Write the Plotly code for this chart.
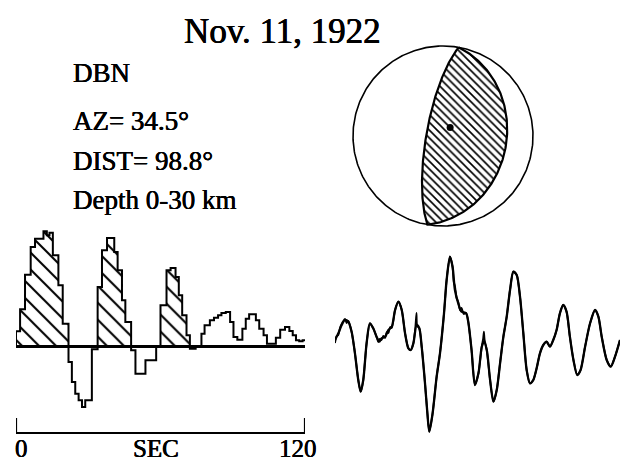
import numpy as np
import plotly.graph_objects as go

W, H = 620, 467

# ---------------- data ----------------
title_text = "Nov. 11, 1922"
station_info = ["DBN", "AZ= 34.5°", "DIST= 98.8°", "Depth 0-30 km"]
scale_labels = ["0", "SEC", "120"]
scale_ticks = [0, 120]

# source time function: step start times (s) and amplitudes (arbitrary units)
stf_t = [0, 1.7, 3.75, 6.1, 7.9, 11.4, 12.8, 13.9, 15.3, 17.6, 19.4,
         21.8, 23.2, 24.6, 26.0, 27.4, 28.75, 31.5,
         33.9, 35.7, 37.8, 40.8, 42.2, 44.0, 45.4,
         47.8, 49.6, 53.75, 58.2,
         60.0, 62.5, 64.2, 66.25, 67.6, 69.0, 70.8,
         72.2, 74.6, 77.0, 78.3, 80.5, 82.2, 83.9, 85.3, 87.1, 88.9, 90.3,
         91.9, 94.0, 95.4, 96.8, 99.6, 101.0, 102.8, 104.2, 107.9, 109.7,
         111.7, 113.5, 114.9, 116.25, 117.6, 119.0, 120.0]
stf_v = [14.7, 36.7, 71.3, 99, 107.3, 114.7, 110.7, 113.3, 90.7, 60.7, 22.3,
         -16, -36, -47.7, -54.3, -61, -54.3, -3.3,
         59, 95.7, 108, 94, 75.7, 45.7, 24,
         -4.3, -27.7, -14.3, 0,
         40.7, 75.7, 78, 69, 50.7, 30.7, 10.7,
         -2.7, 0, 12.3, 20.7, 25.7, 28.3, 30.7, 33, 34, 24, 9,
         6.3, 17.3, 27.3, 31.7, 25.7, 17.3, 10.7, 2.3, 8.3, 16.3,
         19, 15, 10.7, 5.7, 4.7, 5.7, 5.7]
n_hatched_pulses = 3

# focal mechanism: nodal planes (strike, dip) and T axis (trend, plunge)
nodal_planes = [(10, 30), (190, 75)]
t_axis = (40, 80)

# seismograms (time s, amplitude arbitrary units)
syn_t = [0, 1.4, 2.8, 4.2, 5.6, 7.0, 8.4, 9.8, 10.8, 11.9, 13.3, 14.7, 16.1, 17.5,
         18.7, 19.6, 21.1, 22.5, 23.9, 25.3, 26.7, 28.1, 29.5, 30.9, 31.9, 33.0,
         34.4, 35.5, 36.5, 37.9, 38.9, 39.7, 41.1, 42.8, 44.2, 45.9, 47.0, 48.4,
         49.5, 50.5, 51.9, 53.3, 55.2, 56.1, 57.5, 58.9, 60.4, 61.8, 62.7, 63.9,
         65.3, 66.7, 68.1, 69.5, 70.9, 72.3, 73.7, 75.1, 76.5, 77.9, 79.3, 80.7,
         82.1, 83.5, 84.9, 86.3, 87.7, 89.1, 90.5, 91.9, 93.3, 94.7, 96.1, 97.5,
         98.9, 100.4, 102.0, 103.4, 105.3, 107.4, 109.5, 110.9, 112.3, 114.4,
         116.1, 117.9, 120]
syn_a = [0, 6.7, 15, 20, 18.3, 8.3, -13.3, -40, -51.7, -40, -3.3, 16.7, 11.7, 3.3,
         -1.7, 1.7, 3.3, 10, 13.3, 30, 38.3, 30, 6.7, -8.3, -10, -3.3,
         15, 11.7, -6.7, -43.3, -73.3, -91.7, -73.3, -36.7, -13.3, 26.7, 60, 83.3,
         73.3, 50, 36.7, 28.3, 26.7, 18.3, -10, -45, -33.3, -6.7, -1.7, -10,
         -40, -61.7, -50, -23.3, 3.3, 23.3, 50, 68.3, 65, 43.3, 6.7, -30,
         -43.3, -40, -28.3, -13.3, -5, -1.7, -6.7, 0, 10, 26.7, 35, 28.3,
         3.3, -20, -35, -30, -6.7, 16.7, 30, 23.3, 3.3, -20,
         -26.7, -16.7, 0]
obs_t = [0, 0.7, 1.4, 2.1, 2.8, 3.5, 4.2, 4.9, 5.6, 7.0, 8.4, 9.8, 10.8, 11.9, 13.3,
         14.7, 16.1, 17.5, 18.2, 18.7, 19.6, 20.3, 21.1, 21.8, 22.5, 23.2, 23.9,
         25.3, 26.7, 28.1, 29.5, 30.9, 31.9, 33.0, 33.8, 34.3, 34.6, 35.5, 36.5,
         37.9, 38.9, 39.7, 41.1, 42.8, 44.2, 45.9, 47.0, 48.4, 49.5, 50.0, 50.5,
         51.2, 51.9, 52.6, 53.3, 54.2, 55.2, 56.1, 57.5, 58.9, 60.4, 61.8, 62.4,
         62.7, 63.0, 63.9, 65.3, 66.7, 68.1, 69.5, 70.9, 72.3, 73.7, 75.1, 76.5,
         77.9, 79.3, 80.7, 82.1, 83.5, 84.9, 86.3, 87.7, 89.1, 90.5, 91.9, 93.3,
         94.7, 96.1, 97.5, 98.9, 100.4, 102.0, 103.4, 105.3, 107.4, 109.5, 110.9,
         112.3, 114.4, 116.1, 117.9, 120]
obs_a = [-3, 4, 5, 12, 16, 19, 21, 17, 19, 8, -13.3, -40, -51.7, -40, -3.3,
         16.7, 11.7, 3.3, -2, 1, 0, 4, 2, 8, 7, 13, 12,
         30, 38.3, 30, 6.7, -8.3, -10, -3.3, 12, 27, 14, 11.7, -6.7,
         -43.3, -73.3, -91.7, -73.3, -36.7, -13.3, 26.7, 60, 83.3, 73, 58, 54,
         42, 38, 30, 32, 26, 27, 18.3, -10, -45, -33.3, -6.7, 2,
         8.3, 0, -10, -40, -61.7, -50, -23.3, 3.3, 23.3, 50, 68.3, 65,
         43.3, 6.7, -30, -43.3, -40, -28.3, -13.3, -5, -1.7, -6.7, 0, 10,
         26.7, 35, 28.3, 3.3, -20, -35, -30, -6.7, 16.7, 30, 23.3,
         3.3, -20, -26.7, -16.7, 0]

SERIF = "Liberation Serif, Times New Roman, serif"
BLACK = "#000000"
SHADOW = "0.35px 0 0 #000000, -0.35px 0 0 #000000"


def px_x(p):
    return p / W


def px_y(p):
    return 1 - p / H


fig = go.Figure()

# ---------------- source time function ----------------
st = np.array(stf_t, dtype=float)
sv = np.array(stf_v, dtype=float)

# group positive lobes and hatch the first few
groups, cur = [], []
for i in range(len(sv) - 1):
    if sv[i] > 0:
        cur.append(i)
    elif cur:
        groups.append(cur)
        cur = []
if cur:
    groups.append(cur)
for g in groups[:n_hatched_pulses]:
    gx = list(st[g]) + [st[g[-1] + 1]]
    gy = list(sv[g]) + [0.0]
    fig.add_trace(go.Scatter(
        x=gx, y=gy, mode="lines", line=dict(width=0, shape="hv"),
        fill="tozeroy", fillcolor="rgba(0,0,0,0)",
        fillpattern=dict(shape="\\", size=12, solidity=0.17, fgopacity=1,
                         fgcolor=BLACK, bgcolor="rgba(0,0,0,0)"),
        xaxis="x", yaxis="y", hoverinfo="skip"))

fig.add_trace(go.Scatter(
    x=[st[0]] + list(st), y=[0.0] + list(sv), mode="lines",
    line=dict(color=BLACK, width=2, shape="hv"),
    xaxis="x", yaxis="y", hoverinfo="skip"))

# ---------------- focal mechanism ----------------
def plane_curve(strike, dip, n=181):
    s, d = np.radians(strike), np.radians(dip)
    lam = np.linspace(0, np.pi, n)
    u = np.array([np.sin(s), np.cos(s), 0.0])
    dd = s + np.pi / 2
    v = np.array([np.cos(d) * np.sin(dd), np.cos(d) * np.cos(dd), np.sin(d)])
    vec = np.outer(np.cos(lam), u) + np.outer(np.sin(lam), v)
    plunge = np.arcsin(np.clip(vec[:, 2], -1, 1))
    trend = np.arctan2(vec[:, 0], vec[:, 1])
    r = np.sqrt(2) * np.sin((np.pi / 2 - plunge) / 2)
    return r * np.sin(trend), r * np.cos(trend)


xa, ya = plane_curve(*nodal_planes[0])
xb, yb = plane_curve(*nodal_planes[1])
lx = np.concatenate([xa, xb])
ly = np.concatenate([ya, yb])

th = np.linspace(0, 2 * np.pi, 361)
fig.add_trace(go.Scatter(
    x=np.sin(th), y=np.cos(th), mode="lines",
    line=dict(color=BLACK, width=1.6), xaxis="x2", yaxis="y2", hoverinfo="skip"))
fig.add_trace(go.Scatter(
    x=lx, y=ly, mode="lines", fill="toself", fillcolor="rgba(0,0,0,0)",
    fillpattern=dict(shape="\\", size=5.5, solidity=0.3, fgopacity=1, fgcolor=BLACK,
                     bgcolor="rgba(0,0,0,0)"),
    line=dict(color=BLACK, width=2.2), xaxis="x2", yaxis="y2", hoverinfo="skip"))

tr, pl = np.radians(t_axis[0]), np.radians(t_axis[1])
rt = np.sqrt(2) * np.sin((np.pi / 2 - pl) / 2)
fig.add_trace(go.Scatter(
    x=[rt * np.sin(tr)], y=[rt * np.cos(tr)], mode="markers",
    marker=dict(color=BLACK, size=7), xaxis="x2", yaxis="y2", hoverinfo="skip"))

# ---------------- seismograms ----------------
fig.add_trace(go.Scatter(
    x=syn_t, y=syn_a, mode="lines",
    line=dict(color=BLACK, width=2.3, shape="spline", smoothing=0.8),
    xaxis="x3", yaxis="y3", hoverinfo="skip"))
fig.add_trace(go.Scatter(
    x=obs_t, y=obs_a, mode="lines",
    line=dict(color=BLACK, width=1.8, shape="spline", smoothing=0.6),
    xaxis="x3", yaxis="y3", hoverinfo="skip"))

# ---------------- text ----------------
ann = []
ann.append(dict(text=title_text, x=px_x(282), y=px_y(31), xref="paper", yref="paper",
                xanchor="center", yanchor="middle", showarrow=False,
                font=dict(family=SERIF, size=35, color=BLACK, shadow=SHADOW)))
info_y = [73.5, 121, 161, 200]
for txt, yy in zip(station_info, info_y):
    ann.append(dict(text=txt, x=px_x(71), y=px_y(yy), xref="paper", yref="paper",
                    xanchor="left", yanchor="middle", showarrow=False,
                    font=dict(family=SERIF, size=27, color=BLACK, shadow=SHADOW)))
lab_x = [21, 156, 298]
for txt, xx in zip(scale_labels, lab_x):
    ann.append(dict(text=txt, x=px_x(xx), y=px_y(448), xref="paper", yref="paper",
                    xanchor="center", yanchor="middle", showarrow=False,
                    font=dict(family=SERIF, size=25, color=BLACK, shadow=SHADOW)))

# scale bar end ticks
shapes = []
for tv in scale_ticks:
    shapes.append(dict(type="line", xref="x", yref="paper", x0=tv, x1=tv,
                       y0=px_y(434), y1=px_y(418),
                       line=dict(color=BLACK, width=2.2)))

hidden = dict(visible=False, showgrid=False, zeroline=False, fixedrange=True)

fig.update_layout(
    width=W, height=H,
    margin=dict(l=0, r=0, t=0, b=0),
    paper_bgcolor="white", plot_bgcolor="rgba(0,0,0,0)",
    showlegend=False,
    annotations=ann,
    shapes=shapes,
    xaxis=dict(domain=[px_x(16), px_x(305)], range=[0, 120], anchor="free",
               position=px_y(433), showline=True, linecolor=BLACK, linewidth=2.2,
               ticks="", showticklabels=False, showgrid=False,
               zeroline=False, fixedrange=True),
    yaxis=dict(domain=[px_y(421), px_y(221)], range=[-75, 125], anchor="x",
               showgrid=False, showticklabels=False, ticks="", showline=False,
               zeroline=True, zerolinecolor=BLACK, zerolinewidth=2.8,
               fixedrange=True),
    xaxis2=dict(domain=[px_x(443 - 94.5), px_x(443 + 94.5)], range=[-1.05, 1.05],
                anchor="y2", **hidden),
    yaxis2=dict(domain=[px_y(136 + 94.5), px_y(136 - 94.5)], range=[-1.05, 1.05],
                anchor="x2", **hidden),
    xaxis3=dict(domain=[px_x(335), 1.0], range=[0, 120], anchor="y3", **hidden),
    yaxis3=dict(domain=[px_y(440), px_y(240)], range=[-100, 100], anchor="x3", **hidden),
)

fig.write_html("out.html")
